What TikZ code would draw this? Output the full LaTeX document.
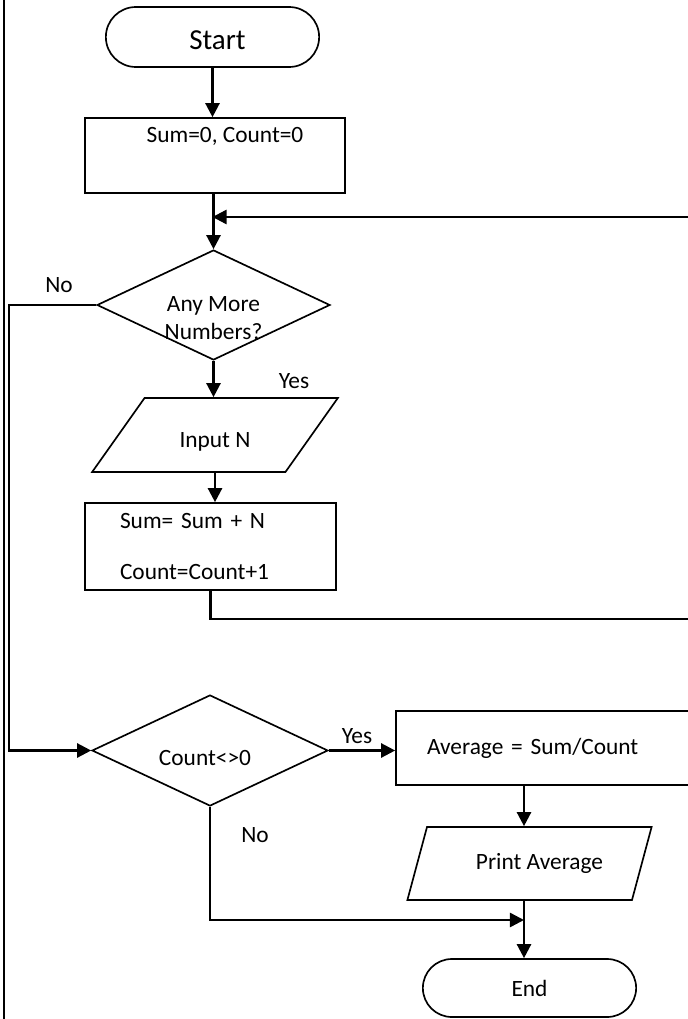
\documentclass[tikz,border=0pt]{standalone}
\usepackage{fontspec}
\setmainfont{Carlito}
\usetikzlibrary{shapes.geometric,shapes.misc,arrows.meta}

\begin{document}
\begin{tikzpicture}[
  term/.style={draw, line width=0.95pt, rounded rectangle, minimum width=4.5cm},
  proc/.style={draw, line width=0.95pt, rectangle, inner sep=0pt},
  io/.style={draw, line width=0.95pt, trapezium, trapezium stretches=true, inner sep=0pt},
  decide/.style={draw, line width=0.95pt, diamond, inner sep=0pt},
  flow/.style={line width=1.4pt, -{Triangle[length=8pt,width=8pt]}},
  txt/.style={font=\fontsize{13.3}{16}\selectfont}
]
\useasboundingbox (0,0) rectangle (13.74,-20.38);
\draw[line width=0.6pt] (0.08,0) -- (0.08,-20.38);

\node[term, minimum height=1.2cm, text height=0.52cm, text depth=0cm, font=\fontsize{16.5}{20}\selectfont] (start) at (4.25,-0.74) {\hspace{0.2cm}Start};
\node[proc, minimum width=5.2cm, minimum height=1.5cm, text height=0.48cm, text depth=1.02cm, txt] (init) at (4.3,-3.11) {\hspace{0.4cm}Sum=0, Count=0};
\node[decide, minimum width=4.66cm, minimum height=2.2cm] (more) at (4.27,-6.1) {};
\node[txt, align=center] (moretxt) at ([yshift=-0.27cm]more.center) {Any More\\Numbers?};
\node[io, minimum width=4.92cm, minimum height=1.48cm, trapezium left angle=53, trapezium right angle=127, text height=0.6cm, text depth=0.1cm, txt] (input) at (4.3,-8.7) {Input N\hspace{0.5cm}};
\node[proc, minimum width=5.02cm, minimum height=1.74cm, txt, align=left, text width=3.62cm] (upd) at (4.21,-10.93) {Sum= Sum + N\\[12.5pt]Count=Count+1};
\node[decide, minimum width=4.72cm, minimum height=2.22cm] (cnt) at (4.2,-15.01) {};
\node[txt] (cnttxt) at ([xshift=-0.1cm,yshift=-0.15cm]cnt.center) {Count<>0};
\node[proc, minimum width=6.08cm, minimum height=1.48cm, txt, align=left, text width=4.84cm] (avg) at (10.96,-14.96) {Average = Sum/Count};
\node[io, minimum width=4.9cm, minimum height=1.46cm, trapezium left angle=55, trapezium right angle=125, txt] (print) at (10.59,-17.27) {\hspace{0.4cm}Print Average};
\node[term, minimum height=1.16cm, txt] (end) at (10.59,-19.76) {End\hspace{0.5cm}};

\node[txt] (no1) at (1.18,-5.7) {No};
\node[txt] (yes1) at (5.88,-7.62) {Yes};
\node[txt] (yes2) at (7.14,-14.72) {Yes};
\node[txt] (no2) at (5.1,-16.7) {No};

\coordinate (loop) at (4.25,-4.34);
\coordinate (r1) at (14.1,-12.38);
\coordinate (r2) at (14.1,-4.34);
\coordinate (nl) at (0.18,0);
\coordinate (join) at (10.48,-18.4);

\draw[flow] (start.south) -- (start.south |- init.north);
\draw[flow] (init.south -| more.north) -- (more.north);
\draw[flow] (upd.south) |- (r1) -- (r2) -- (loop);
\draw[flow] (more.west) -- (more.west -| nl) |- (cnt.west);
\draw[flow] (more.south) -- (more.south |- input.north);
\draw[flow] (input.south) -- (input.south |- upd.north);
\draw[flow] (cnt.east) -- (cnt.east -| avg.west);
\draw[flow] (avg.south -| join) -- (join |- print.north);
\draw[flow] (join |- print.south) -- (join |- end.north);
\draw[flow] (cnt.south) |- (join);
\end{tikzpicture}
\end{document}
